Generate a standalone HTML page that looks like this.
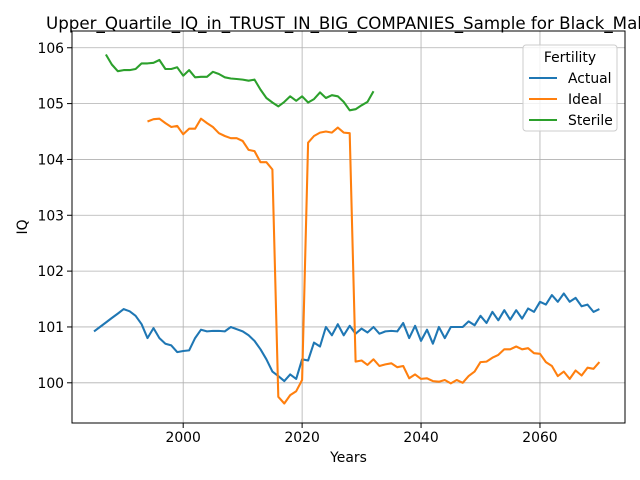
<!DOCTYPE html>
<html><head><meta charset="utf-8"><style>
body{margin:0;background:#fff}
svg{display:block;font-family:"DejaVu Sans","Liberation Sans",sans-serif}
</style></head><body>
<svg id="chart" width="640" height="480" viewBox="0 0 640 480">
<rect width="640" height="480" fill="#fff"/>
<text x="46" y="29" font-size="16.7" fill="#000">Upper_Quartile_IQ_in_TRUST_IN_BIG_COMPANIES_Sample for Black_Male</text>
<g id="grid"></g>
<g id="series"></g>
<rect x="72" y="31" width="553" height="392" fill="none" stroke="#000" stroke-width="1"/>
<g id="ticks"></g>
<text x="348.5" y="462" font-size="13.9" text-anchor="middle">Years</text>
<text transform="translate(27,227) rotate(-90)" font-size="13.9" text-anchor="middle">IQ</text>
<g>
<rect x="523" y="45" width="94" height="86" rx="3" fill="#fff" fill-opacity="0.8" stroke="#ccc"/>
<text x="570" y="62" font-size="13.9" text-anchor="middle">Fertility</text>
<line x1="529" y1="78" x2="557" y2="78" stroke="#1f77b4" stroke-width="2.08"/>
<text x="568" y="83" font-size="13.9">Actual</text>
<line x1="529" y1="99" x2="557" y2="99" stroke="#ff7f0e" stroke-width="2.08"/>
<text x="568" y="104" font-size="13.9">Ideal</text>
<line x1="529" y1="120" x2="557" y2="120" stroke="#2ca02c" stroke-width="2.08"/>
<text x="568" y="125" font-size="13.9">Sterile</text>
</g>
</svg>
<script>
const xTicks=[2000,2020,2040,2060];
const yTicks=[100,101,102,103,104,105,106];
const actualStart=1985;
const actualValues=[100.92,101.0,101.08,101.16,101.24,101.32,101.28,101.2,101.05,100.8,100.98,100.8,100.7,100.67,100.55,100.57,100.58,100.8,100.95,100.92,100.93,100.93,100.92,101.0,100.96,100.92,100.85,100.75,100.6,100.42,100.2,100.12,100.03,100.15,100.07,100.42,100.4,100.72,100.65,101.0,100.85,101.05,100.85,101.02,100.88,100.97,100.9,101.0,100.88,100.92,100.93,100.92,101.07,100.8,101.02,100.75,100.95,100.7,101.0,100.8,101.0,101.0,101.0,101.1,101.03,101.2,101.07,101.27,101.12,101.3,101.13,101.3,101.15,101.33,101.27,101.45,101.4,101.57,101.45,101.6,101.45,101.52,101.37,101.4,101.27,101.32];
const idealStart=1994;
const idealValues=[104.68,104.72,104.73,104.65,104.58,104.6,104.45,104.55,104.55,104.73,104.65,104.58,104.47,104.42,104.38,104.38,104.33,104.17,104.15,103.95,103.95,103.82,99.75,99.63,99.78,99.85,100.05,104.3,104.42,104.48,104.5,104.48,104.57,104.48,104.47,100.38,100.4,100.32,100.42,100.3,100.33,100.35,100.28,100.3,100.08,100.15,100.07,100.08,100.03,100.02,100.05,99.99,100.05,100.0,100.12,100.2,100.37,100.38,100.45,100.5,100.6,100.6,100.65,100.6,100.62,100.53,100.52,100.37,100.3,100.12,100.2,100.07,100.22,100.13,100.27,100.25,100.37];
const sterileStart=1987;
const sterileValues=[105.88,105.7,105.58,105.6,105.6,105.62,105.72,105.72,105.73,105.78,105.62,105.62,105.65,105.5,105.6,105.47,105.48,105.48,105.57,105.53,105.47,105.45,105.44,105.43,105.41,105.43,105.25,105.1,105.02,104.95,105.03,105.13,105.05,105.13,105.02,105.08,105.2,105.1,105.15,105.13,105.03,104.88,104.9,104.97,105.03,105.22];
const X0=72,X1=625,Y0=423,Y1=31,XMIN=1981.3,XMAX=2074.3,YMIN=99.28,YMAX=106.3;
function sx(v){return X0+(v-XMIN)/(XMAX-XMIN)*(X1-X0);}
function sy(v){return Y0-(v-YMIN)/(YMAX-YMIN)*(Y0-Y1);}
const NS='http://www.w3.org/2000/svg';
const grid=document.getElementById('grid'),ticks=document.getElementById('ticks'),ser=document.getElementById('series');
function mk(tag,attrs,parent){const e=document.createElementNS(NS,tag);for(const k in attrs)e.setAttribute(k,attrs[k]);parent.appendChild(e);return e;}
xTicks.forEach(t=>{const x=sx(t);
 const g=mk('line',{x1:x,x2:x,y1:Y1,y2:Y0,stroke:'#b0b0b0','stroke-width':0.8},grid);
 
 
 mk('line',{x1:x,x2:x,y1:Y0,y2:Y0+5,stroke:'#000'},ticks);
 const tx=mk('text',{x:x,y:Y0+19,'font-size':13.9,'text-anchor':'middle'},ticks);tx.textContent=t;
 
 
});
yTicks.forEach(t=>{const y=sy(t);
 const g=mk('line',{x1:X0,x2:X1,y1:y,y2:y,stroke:'#b0b0b0','stroke-width':0.8},grid);
 
 
 mk('line',{x1:X0-5,x2:X0,y1:y,y2:y,stroke:'#000'},ticks);
 const tx=mk('text',{x:X0-8,y:y+5,'font-size':13.9,'text-anchor':'end'},ticks);tx.textContent=t;
 
 
});
function line(start,vals,color,name){
 const pts=vals.map((v,i)=>sx(start+i).toFixed(1)+','+sy(v).toFixed(1)).join(' ');
 const p=mk('polyline',{points:pts,fill:'none',stroke:color,'stroke-width':2.08,'stroke-linejoin':'round'},ser);
 
 
}
line(actualStart,actualValues,'#1f77b4','actual-line');
line(idealStart,idealValues,'#ff7f0e','ideal-line');
line(sterileStart,sterileValues,'#2ca02c','sterile-line');
</script>
</body></html>
